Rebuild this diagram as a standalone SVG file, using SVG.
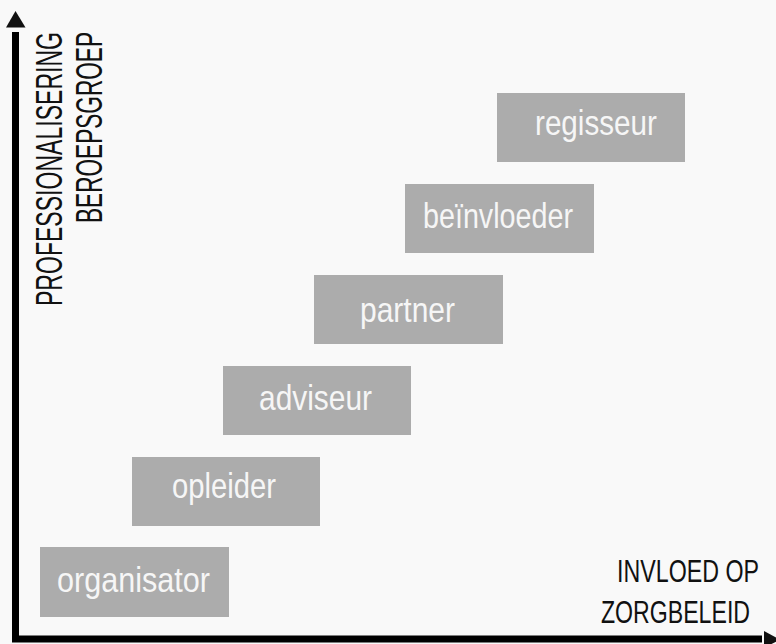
<svg xmlns="http://www.w3.org/2000/svg" width="776" height="644" viewBox="0 0 776 644">
  <style>
    .bg { fill: #f9f9f9; }
    .box rect { fill: #acacac; }
    .box text { font-family: "Liberation Sans Narrow", "Liberation Sans", "DejaVu Sans", sans-serif; font-size: 35px; fill: #f6f6f6; }
    .axis-line { stroke: #000; stroke-width: 7; fill: none; }
    .axis-head { fill: #111; }
    .axis-label { font-family: "Liberation Sans Narrow", "Liberation Sans", "DejaVu Sans", sans-serif; fill: #111; }
  </style>

  <rect class="bg" x="0" y="0" width="776" height="644"/>

  <!-- axes -->
  <g id="axes">
    <line class="axis-line" x1="15.5" y1="32" x2="15.5" y2="642"/>
    <polygon class="axis-head" points="15.5,11 6,27.5 25.5,27.5"/>
    <line class="axis-line" x1="12" y1="639" x2="762" y2="639"/>
    <polygon class="axis-head" points="764,631 764,648 780,639.5"/>
  </g>

  <!-- axis labels -->
  <g id="y-label">
    <text class="axis-label" font-size="36" transform="translate(62,32) rotate(-90)" text-anchor="end" textLength="274" lengthAdjust="spacingAndGlyphs">PROFESSIONALISERING</text>
    <text class="axis-label" font-size="36" transform="translate(102,32) rotate(-90)" text-anchor="end" textLength="191" lengthAdjust="spacingAndGlyphs">BEROEPSGROEP</text>
  </g>
  <g id="x-label">
    <text class="axis-label" font-size="32" x="617" y="582" textLength="142" lengthAdjust="spacingAndGlyphs">INVLOED OP</text>
    <text class="axis-label" font-size="32" x="601" y="623" textLength="149" lengthAdjust="spacingAndGlyphs">ZORGBELEID</text>
  </g>

  <!-- steps -->
  <g id="organisator" class="box">
    <rect x="40" y="547" width="189" height="70"/>
    <text x="57" y="592" textLength="153" lengthAdjust="spacingAndGlyphs">organisator</text>
  </g>
  <g id="opleider" class="box">
    <rect x="132" y="457" width="188" height="69"/>
    <text x="172" y="498" textLength="104" lengthAdjust="spacingAndGlyphs">opleider</text>
  </g>
  <g id="adviseur" class="box">
    <rect x="223" y="366" width="188" height="69"/>
    <text x="259" y="410" textLength="113" lengthAdjust="spacingAndGlyphs">adviseur</text>
  </g>
  <g id="partner" class="box">
    <rect x="314" y="275" width="189" height="69"/>
    <text x="360" y="322" textLength="95" lengthAdjust="spacingAndGlyphs">partner</text>
  </g>
  <g id="beinvloeder" class="box">
    <rect x="405" y="184" width="189" height="69"/>
    <text x="423" y="228" textLength="150" lengthAdjust="spacingAndGlyphs">beïnvloeder</text>
  </g>
  <g id="regisseur" class="box">
    <rect x="497" y="93" width="188" height="69"/>
    <text x="535" y="135" textLength="122" lengthAdjust="spacingAndGlyphs">regisseur</text>
  </g>
</svg>
